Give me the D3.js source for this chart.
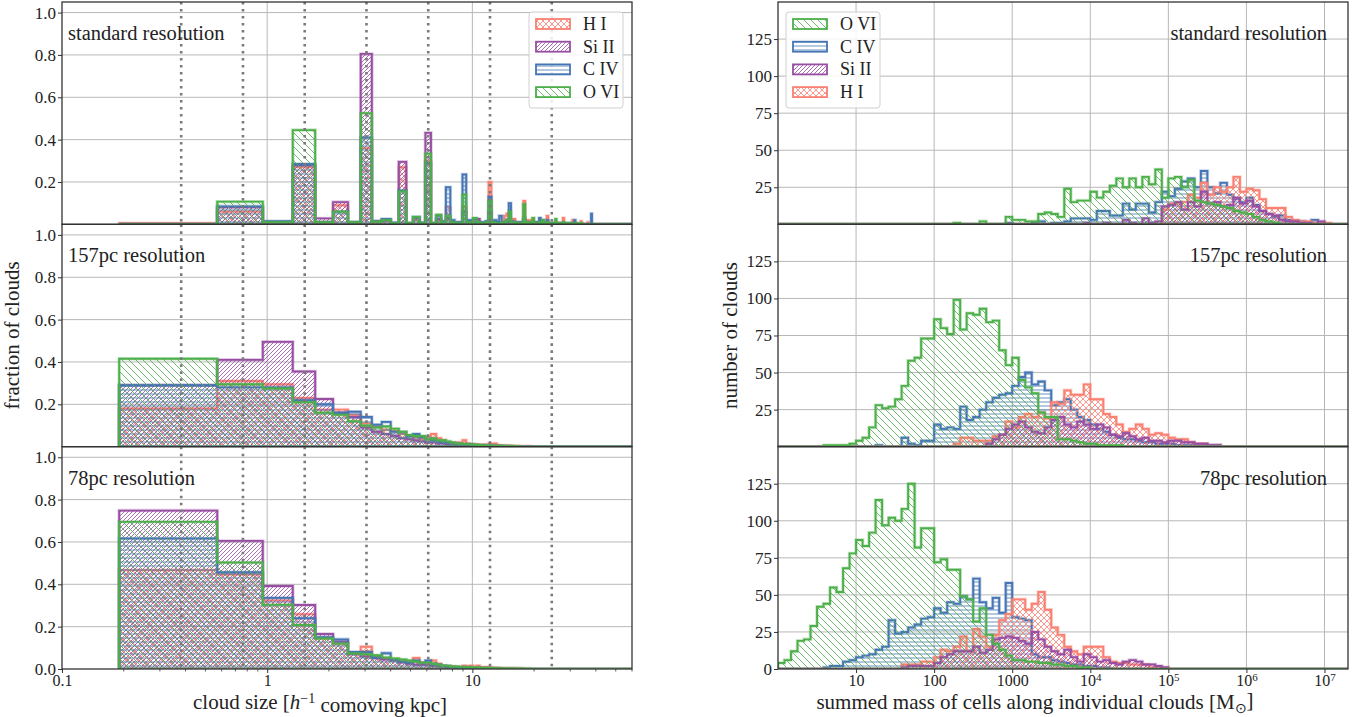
<!DOCTYPE html>
<html><head><meta charset="utf-8">
<script src="https://cdn.jsdelivr.net/npm/d3@7"></script>
<style>
body{margin:0;background:#fff}
text{font-family:"Liberation Serif","Times New Roman",serif;fill:#222}
</style>
</head><body>
<svg id="c" width="1367" height="717"></svg>
<script>
// ---------------- DATA ----------------
const ionNames = ["H I","Si II","C IV","O VI"];
const ionColors = ["#fa8072","#984ea3","#4575b4","#4daf4a"];
const panelLabels = ["standard resolution","157pc resolution","78pc resolution"];
const fracTickVals = [0,0.2,0.4,0.6,0.8,1.0];
const countTickVals = [0,25,50,75,100,125];
const sizeTickVals = [0.1,1,10];
const sizeTickLabels = ["0.1","1","10"];
const massTickVals = [10,100,1000,1e4,1e5,1e6,1e7];
const massTickBase = ["10","100","1000","10","10","10","10"];
const massTickExp = ["","","","4","5","6","7"];
const cellSizes = [0.381,0.762,1.524,3.048,6.096,12.19,24.38];
const sizeBinStart = 0.19, sizeBinWidth = 0.381, sizeNBins = 157;
const massBinsPerDecade = 12, massNBins = 88;

// cloud size histograms (fraction of clouds), bins of width 0.381 starting at 0.19
const sizeStd_HI = [
0.005,0.06,0.01,0.27,0.01,0.09,0.008,0.36,0.01,0.015,
0.005,0.27,0.005,0.02,0.005,0.30,0.005,0.02,0.01,0.08,
0.005,0.005,0.01,0.08,0.01,0.01,0.02,0.015,0.005,0.005,
0.01,0.20,0.01,0.01,0.01,0.005,0.01,0.04,0.05,0.02,
0.01,0.025,0.005,0.01,0.005,0.01,0.11,0.01,0.02,0.005,
0.02,0.01,0.005,0.01,0.005,0.01,0.005,0.01,0.005,0.01,
0.04,0.005,0.005,0.005,0.005,0.005,0.01,0.005,0.005,0.005,
0.005,0.005,0.03,0,0.005,0,0,0.005,0,0,
0.02,0,0,0,0.005,0,0,0,0.015,0,
0,0,0,0,0,0.01,0,0,0,0];
const sizeStd_SiII = [
0,0.08,0.01,0.28,0.028,0.105,0.01,0.805,0.015,0.02,
0.005,0.295,0.005,0.03,0.005,0.432,0.005,0.025,0.01,0.03,
0.01,0.005,0.005,0.06,0.01,0.005,0.01,0.025,0.005,0.005,
0.01,0.06,0.01,0.005,0.005,0.005,0.005,0.01,0.01,0.01,
0.01,0.01,0.005,0.005,0.005,0.005,0.02,0.005,0.005,0.005,
0.005,0.005,0.005,0.005,0.005,0.005,0.005,0.01,0.005,0.005,
0.01,0,0.005,0,0.005,0,0.005,0,0,0.005,
0,0,0.005,0,0,0,0,0,0,0,
0,0,0.005];
const sizeStd_CIV = [
0,0.085,0.015,0.285,0.01,0.06,0.01,0.41,0.015,0.025,
0.008,0.16,0.005,0.035,0.008,0.29,0.005,0.04,0.015,0.175,
0.02,0.01,0.01,0.235,0.02,0.02,0.025,0.01,0.01,0.01,
0.015,0.13,0.015,0.02,0.01,0.04,0.01,0.01,0.02,0.10,
0.015,0.01,0.01,0.005,0.01,0.005,0.03,0.005,0.01,0.005,
0.01,0.01,0.005,0.01,0.005,0.03,0.005,0.02,0.005,0.005,
0.02,0.005,0.005,0.005,0.005,0.005,0.005,0.005,0.005,0.005,
0.005,0.005,0.005,0.005,0,0.005,0,0,0.005,0,
0,0,0.02,0,0,0,0,0,0,0,
0,0,0,0,0,0,0,0,0,0.05];
const sizeStd_OVI = [
0,0.107,0.01,0.445,0.01,0.06,0.01,0.525,0.012,0.02,
0.005,0.155,0.005,0.035,0.005,0.334,0.005,0.045,0.01,0.04,
0.01,0.005,0.005,0.14,0.01,0.005,0.03,0.01,0.005,0.005,
0.01,0.11,0.01,0.005,0.005,0.005,0.01,0.01,0.02,0.06,
0.01,0.01,0.005,0.005,0.005,0.005,0.095,0.005,0.01,0.005,
0.01,0.03,0.005,0.005,0.005,0.01,0.005,0.02,0.005,0.005,
0.01,0.005,0.005,0.005,0.005,0.005,0.025,0.005,0.005,0.005,
0.005,0.005,0.01,0.005,0.005,0.005,0.005,0.005,0.005,0.005,
0.005,0.005,0.005,0.005,0.005,0.005,0.005,0.005,0.005,0.005];

const size157_HI = [0.18,0.31,0.295,0.23,0.175,0.175,0.15,0.11,0.095,0.08,
0.075,0.06,0.05,0.045,0.035,0.045,0.06,0.04,0.03,0.02,
0.02,0.02,0.02,0.03,0.015,0.012,0.01,0.01,0.008,0.01,
0.008,0.015,0.012,0.015,0.008,0.006,0.005,0.005,0.006,0.004,
0.004,0.003,0.003,0.003,0.002,0.002,0.002,0.002,0.003,0.002];
const size157_SiII = [0.29,0.41,0.495,0.355,0.225,0.16,0.14,0.09,0.07,0.06,
0.05,0.04,0.035,0.03,0.025,0.02,0.02,0.015,0.015,0.01,
0.01,0.008,0.008,0.006,0.005,0.005,0.004,0.004,0.003,0.003,
0.003,0.002,0.002,0.002,0.002,0.002];
const size157_CIV = [0.29,0.28,0.28,0.22,0.2,0.16,0.165,0.14,0.104,0.117,
0.07,0.07,0.05,0.06,0.045,0.035,0.03,0.025,0.02,0.02,
0.015,0.015,0.012,0.012,0.01,0.01,0.008,0.008,0.006,0.006,
0.005,0.005,0.004,0.004,0.003,0.003,0.003,0.002,0.002,0.002];
const size157_OVI = [0.415,0.295,0.275,0.21,0.16,0.15,0.12,0.1,0.09,0.095,
0.085,0.07,0.055,0.05,0.05,0.035,0.04,0.03,0.03,0.025,
0.02,0.015,0.015,0.012,0.012,0.01,0.01,0.008,0.008,0.007,
0.006,0.006,0.005,0.005,0.004,0.004,0.004,0.003,0.003,0.003,
0.003,0.002,0.002,0.002];

const size78_HI = [0.467,0.446,0.324,0.259,0.145,0.12,0.075,0.105,0.06,0.05,
0.045,0.04,0.035,0.052,0.03,0.03,0.04,0.025,0.015,0.012,
0.012,0.01,0.01,0.015,0.012,0.015,0.01,0.015,0.008,0.008,
0.01,0.008,0.006,0.005,0.006,0.005,0.004,0.004,0.003,0.004,
0.003,0.003,0.002,0.002,0.003,0.002];
const size78_SiII = [0.748,0.605,0.392,0.302,0.165,0.13,0.07,0.06,0.05,0.045,
0.04,0.03,0.025,0.02,0.02,0.02,0.015,0.012,0.01,0.008,
0.008,0.006,0.006,0.005,0.005,0.004,0.004,0.003,0.003,0.003,
0.002,0.002];
const size78_CIV = [0.616,0.457,0.336,0.24,0.15,0.14,0.08,0.08,0.055,0.075,
0.045,0.035,0.03,0.04,0.03,0.04,0.025,0.02,0.015,0.012,
0.01,0.01,0.008,0.008,0.007,0.006,0.005,0.005,0.004,0.004,
0.003,0.003,0.003,0.002,0.002];
const size78_OVI = [0.695,0.503,0.303,0.208,0.144,0.12,0.073,0.07,0.065,0.055,
0.05,0.045,0.04,0.035,0.03,0.03,0.025,0.02,0.015,0.015,
0.012,0.012,0.01,0.01,0.009,0.008,0.008,0.007,0.006,0.006,
0.005,0.005,0.005,0.004,0.004,0.004,0.004,0.003,0.003,0.003,
0.003,0.003,0.003,0.002,0.002,0.002,0.002,0.002,0.002,0.002];

// summed-mass histograms (number of clouds), 12 log bins per decade starting at 1 Msun
const massStd_HI = [
0,0,0,0,0,0,0,0,0,0, 0,0,0,0,0,0,0,0,0,0, 0,0,0,0,0,0,0,0,0,0,
0,0,0,0,0,0,0,0,0,0, 0,0,0,0,0,0,0,0,0,0,
0,0,0,0,0,0,0,0,0,10,
14,14,15,20,18,28,20,25,22,25,
32,22,24,23,17,11,11,11,5,3,
2,2,1,1,1];
const massStd_SiII = [
0,0,0,0,0,0,0,0,0,0, 0,0,0,0,0,0,0,0,0,0, 0,0,0,0,0,0,0,0,0,0,
0,0,0,0,0,0,0,0,0,0,
0,0,0,0,0,0,0,1,0,0,
1,0,0,3,1,0,4,1,2,12,
13,15,10,15,12,22,14,15,12,13,
18,14,16,12,9,7,6,3,2,2,
1,1,0,2];
const massStd_CIV = [
0,0,0,0,0,0,0,0,0,0, 0,0,0,0,0,0,0,0,0,0, 0,0,0,0,0,0,0,0,0,0,
0,0,0,0,0,1,0,0,0,1,
2,0,1,1,2,4,4,4,3,9,
9,6,6,14,10,14,14,8,15,22,
19,24,29,31,25,36,25,21,28,20,
17,15,18,13,9,7,5,6,3,2,
2,0,3,1];
const massStd_OVI = [
0,0,0,0,0,0,0,0,0,0, 0,0,0,0,0,0,0,0,0,0,
0,0,0,0,0,0,0,1,0,0,
0,2,0,0,0,5,3,3,2,2,
7,8,7,5,24,15,16,16,22,18,
22,26,31,25,31,25,32,27,37,18,
31,32,25,30,16,15,14,13,12,11,
9,8,7,5,3,2,1];

const mass157_HI = [
0,0,0,0,0,0,0,0,0,0, 0,0,0,0,0,0,0,0,0,0,
0,0,0,0,0,0,0,2,6,6,
4,4,4,7,8,17,13,20,22,20,
23,19,30,29,38,35,35,42,32,32,
22,20,15,10,12,15,12,8,9,8,
6,5,5,3,2,2,1,1];
const mass157_SiII = [
0,0,0,0,0,0,0,0,0,0, 0,0,0,0,0,0,0,0,0,0, 0,0,0,0,0,0,0,0,0,0,
0,0,2,5,8,12,15,17,13,10,
9,13,18,20,15,13,17,15,12,15,
13,8,7,9,7,5,6,4,4,3,
4,4,3,3,2,2,1,1];
const mass157_CIV = [
0,0,0,0,0,0,0,0,0,0,
0,0,0,0,0,1,0,0,0,6,
2,1,4,4,15,12,13,12,27,18,
20,25,30,33,35,36,41,47,50,42,
44,38,28,30,32,25,20,18,15,12,
10,8,6,5,5,4,3,3,2,2,
2,1,1,1,1,1,1,1];
const mass157_OVI = [
0,0,0,0,0,0,0,1,1,1,
1,2,4,6,13,28,26,27,32,41,
58,60,73,73,86,80,76,99,79,90,
89,93,84,85,65,55,60,45,40,36,
23,20,20,5,5,4,3,2,2,1,
1,1,1];

const mass78_HI = [
0,0,0,0,0,0,0,0,0,0,
0,0,0,0,0,0,0,0,0,3,
3,3,5,5,8,13,12,15,22,12,
27,22,15,23,33,37,47,47,40,44,
52,40,28,23,15,12,10,15,15,15,
8,5,4,4,3,3,3,1,1,1];
const mass78_SiII = [
0,0,0,0,0,0,0,0,0,0,
0,0,0,0,0,0,0,0,0,1,
2,2,2,2,4,8,10,12,12,12,
15,11,13,20,21,22,21,19,17,25,
20,15,12,10,13,8,5,10,8,5,
6,4,3,5,6,5,3,3,2,1];
const mass78_CIV = [
0,0,0,0,0,0,0,1,2,2,
5,6,8,9,10,13,15,33,24,25,
28,30,34,35,41,38,45,44,49,47,
61,45,41,48,38,58,35,34,33,10,
8,8,6,5,4,3,3,2,2,1,1];
const mass78_OVI = [
4,6,12,19,20,29,42,44,55,52,
68,78,87,83,92,114,97,102,100,108,
125,82,95,95,72,74,67,67,49,47,
32,41,23,17,13,9,6,6,5,5,
4,4,3,3,2,2,1,1];

// per panel, in ion order H I, Si II, C IV, O VI
const sizeData = [[sizeStd_HI,sizeStd_SiII,sizeStd_CIV,sizeStd_OVI],
                  [size157_HI,size157_SiII,size157_CIV,size157_OVI],
                  [size78_HI,size78_SiII,size78_CIV,size78_OVI]];
const massData = [[massStd_HI,massStd_SiII,massStd_CIV,massStd_OVI],
                  [mass157_HI,mass157_SiII,mass157_CIV,mass157_OVI],
                  [mass78_HI,mass78_SiII,mass78_CIV,mass78_OVI]];

// ---------------- DRAWING ----------------
const svg = d3.select("#c");
const defs = svg.append("defs");
const patIds = ["patHI","patSiII","patCIV","patOVI"];
const patSpecs = [
  {size:6, lines:[[0,0,6,6],[0,6,6,0]]},
  {size:4, lines:[[0,4,4,0],[-1,1,1,-1],[3,5,5,3]]},
  {size:4, lines:[[0,2,4,2]]},
  {size:7, lines:[[0,0,7,7],[-1,6,1,8],[6,-1,8,1]]}
];
patSpecs.forEach((s,i)=>{
  const p = defs.append("pattern").attr("id",patIds[i]).attr("patternUnits","userSpaceOnUse")
    .attr("width",s.size).attr("height",s.size);
  s.lines.forEach(l=>p.append("line").attr("x1",l[0]).attr("y1",l[1]).attr("x2",l[2]).attr("y2",l[3])
    .attr("stroke",ionColors[i]).attr("stroke-width",0.9).attr("stroke-opacity",0.9));
});

const panelTop = [2, 224.33, 446.67], panelH = 222.33;
const xL = d3.scaleLog().domain([0.1,60]).range([62,632]);
const xR = d3.scaleLog().domain([1,2e7]).range([778,1348]);
const gridColor = "#b8b8b8", spineColor = "#333";
const tickFont = "17px", labelFont = "20.5px";

function sizeEdge(k){ return sizeBinStart + sizeBinWidth*k; }
function massEdge(k){ return Math.pow(10, k/massBinsPerDecade); }

function histPoints(vals, nBins, edgeFn){
  const pts = [];
  for(let k=0;k<nBins;k++) pts.push({e:edgeFn(k), v:(k<vals.length?vals[k]:0)});
  pts.push({e:edgeFn(nBins), v:pts[pts.length-1].v});
  return pts;
}

function drawHist(g, vals, ion, nBins, edgeFn, x, y){
  const pts = histPoints(vals, nBins, edgeFn);
  const area = d3.area().x(d=>x(d.e)).y0(y(0)).y1(d=>y(d.v)).curve(d3.curveStepAfter);
  g.append("path").attr("d",area(pts)).attr("fill","url(#"+patIds[ion]+")")
    .attr("stroke",ionColors[ion]).attr("stroke-opacity",0.3).attr("stroke-width",3.5);
  const linePts = [{e:pts[0].e,v:0}].concat(pts).concat([{e:pts[pts.length-1].e,v:0}]);
  const line = d3.line().x(d=>x(d.e)).y(d=>y(d.v)).curve(d3.curveStepAfter);
  g.append("path").attr("d",line(linePts)).attr("fill","none")
    .attr("stroke",ionColors[ion]).attr("stroke-width",1.9);
}

function panel(col, p){
  const isLeft = col===0;
  const x = isLeft ? xL : xR;
  const [x0,x1] = x.range();
  const top = panelTop[p], bot = top+panelH;
  const y = d3.scaleLinear().domain(isLeft?[0,1.05]:[0,150]).range([bot,top]);
  const g = svg.append("g");
  const clipId = "clip"+col+p;
  defs.append("clipPath").attr("id",clipId).append("rect")
    .attr("x",x0).attr("y",top).attr("width",x1-x0).attr("height",panelH);
  const tickVals = (isLeft?fracTickVals:countTickVals).filter(v=>p===2||v>0);
  // grid
  g.selectAll(".hg").data(tickVals.filter(v=>v>0)).enter().append("line")
    .attr("x1",x0).attr("x2",x1).attr("y1",d=>y(d)).attr("y2",d=>y(d))
    .attr("stroke",gridColor).attr("stroke-width",1);
  const vg = isLeft ? sizeTickVals.filter(v=>v>0.1) : massTickVals;
  g.selectAll(".vg").data(vg).enter().append("line")
    .attr("x1",d=>x(d)).attr("x2",d=>x(d)).attr("y1",top).attr("y2",bot)
    .attr("stroke",gridColor).attr("stroke-width",1);
  // histograms
  const hg = g.append("g").attr("clip-path","url(#"+clipId+")");
  const order = isLeft ? [0,1,2,3] : [2,0,1,3];
  const data = isLeft ? sizeData[p] : massData[p];
  order.forEach(i=>drawHist(hg, data[i], i, isLeft?sizeNBins:massNBins, isLeft?sizeEdge:massEdge, x, y));
  // dotted cell-size lines
  if(isLeft){
    g.selectAll(".dl").data(cellSizes).enter().append("line")
      .attr("x1",d=>x(d)).attr("x2",d=>x(d)).attr("y1",top).attr("y2",bot)
      .attr("stroke","#7a7a7a").attr("stroke-width",2.6).attr("stroke-dasharray","2.6,4.4");
  }
  // spine
  g.append("rect").attr("x",x0).attr("y",top).attr("width",x1-x0).attr("height",panelH)
    .attr("fill","none").attr("stroke",spineColor).attr("stroke-width",1.3);
  // y axis
  const ya = d3.axisLeft(y).tickValues(tickVals).tickSize(4).tickPadding(2)
    .tickFormat(isLeft?d3.format(".1f"):d3.format("d"));
  const yg = g.append("g").attr("transform","translate("+x0+",0)").call(ya);
  yg.select(".domain").remove();
  yg.selectAll("text").style("font-family","'Liberation Serif',serif").style("font-size",tickFont).attr("fill","#222");
  yg.selectAll("line").attr("stroke",spineColor);
  // panel label
  const lab = g.append("text").attr("y",top+38).style("font-size",labelFont).text(panelLabels[p]);
  if(isLeft) lab.attr("x",68); else lab.attr("x",1327).attr("text-anchor","end");
  // x axis on bottom panel
  if(p===2){
    const xa = d3.axisBottom(x).tickValues(isLeft?sizeTickVals:massTickVals).tickSize(4).tickPadding(2)
      .tickFormat((d,i)=> isLeft ? sizeTickLabels[i] : massTickBase[i]);
    const xg = g.append("g").attr("transform","translate(0,"+bot+")").call(xa);
    xg.select(".domain").remove();
    xg.selectAll("line").attr("stroke",spineColor);
    xg.selectAll("text").style("font-family","'Liberation Serif',serif").style("font-size","16px").attr("fill","#222");
    if(!isLeft){
      xg.selectAll("text").each(function(d,i){
        if(massTickExp[i]){
          d3.select(this).append("tspan").attr("dy","-0.5em").style("font-size","11px").text(massTickExp[i]);
        }
      });
    }
    if(isLeft){
      const minors = [];
      [0.1,1,10].forEach(b=>{for(let m=2;m<=9;m++){ if(b*m<=60) minors.push(b*m);} });
      g.selectAll(".mt").data(minors).enter().append("line")
        .attr("x1",d=>x(d)).attr("x2",d=>x(d)).attr("y1",bot).attr("y2",bot+2.5)
        .attr("stroke",spineColor).attr("stroke-width",0.8);
    }
  }
}

for(let p=0;p<3;p++){ panel(0,p); panel(1,p); }

// axis labels
svg.append("text").attr("transform","translate(19,335.5) rotate(-90)").attr("text-anchor","middle")
  .style("font-size","21px").text("fraction of clouds");
svg.append("text").attr("transform","translate(737,335.5) rotate(-90)").attr("text-anchor","middle")
  .style("font-size","21px").text("number of clouds");
const xl = svg.append("text").attr("x",320).attr("y",709).attr("text-anchor","middle").style("font-size","21px");
xl.append("tspan").text("cloud size [");
xl.append("tspan").style("font-style","italic").text("h");
xl.append("tspan").attr("dy","-0.45em").style("font-size","14px").text("\u22121");
xl.append("tspan").attr("dy","0.45em").text(" comoving kpc]");
const ml = svg.append("text").attr("x",1035).attr("y",709).attr("text-anchor","middle").style("font-size","21px");
ml.append("tspan").text("summed mass of cells along individual clouds [M");
ml.append("tspan").attr("dy","0.3em").style("font-size","14px").text("\u2299");
ml.append("tspan").attr("dy","-0.3em").text("]");

// legends
function legend(x0, y0, order){
  const g = svg.append("g");
  g.append("rect").attr("x",x0).attr("y",y0).attr("width",94).attr("height",96).attr("rx",3)
    .attr("fill","#fff").attr("fill-opacity",0.85).attr("stroke","#d0d0d0");
  order.forEach((i,j)=>{
    const yy = y0+7+j*22.7;
    g.append("rect").attr("x",x0+7).attr("y",yy).attr("width",34).attr("height",10)
      .attr("fill","url(#"+patIds[i]+")").attr("stroke",ionColors[i]).attr("stroke-width",1.8);
    g.append("text").attr("x",x0+54).attr("y",yy+11).style("font-size","18px").text(ionNames[i]);
  });
}
legend(529, 12, [0,1,2,3]);
legend(786, 12, [3,2,1,0]);
</script>
</body></html>
